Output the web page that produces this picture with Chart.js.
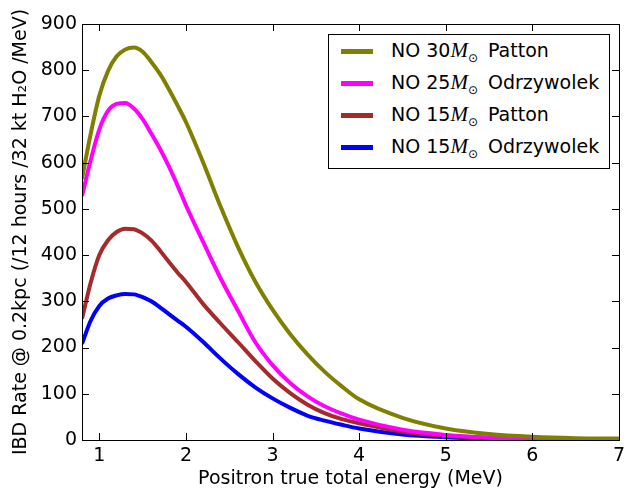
<!DOCTYPE html>
<html>
<head>
<meta charset="utf-8">
<script src="https://cdn.jsdelivr.net/npm/chart.js@4"></script>
<style>
  html, body { margin: 0; padding: 0; background: #fff; }
  #wrap { position: relative; width: 631px; height: 493px; }
  #legend {
    position: absolute; left: 328px; top: 34px; width: 280px; height: 133px;
    border: 1px solid #000; background: #fff;
    font-family: "DejaVu Sans", sans-serif; font-size: 19px; color: #000;
  }
  .item { position: absolute; left: 0; height: 32px; width: 100%; }
  .swatch { position: absolute; left: 12px; width: 32px; height: 5px; top: 14px; }
  .txt { position: absolute; left: 62px; top: 3px; white-space: nowrap; line-height: 24px; }
  .txt i { font-family: "Liberation Serif", serif; font-size: 21px; }
  .txt sub { font-size: 12px; vertical-align: -5px; margin-right: 4px; }
</style>
</head>
<body>
<div id="wrap">
  <canvas id="chart" width="631" height="493"></canvas>
  <div id="legend"></div>
</div>
<script>
// energy grid (MeV)
const energy = [0.8, 0.9, 1.0, 1.1, 1.2, 1.3, 1.4, 1.5, 1.6, 1.7, 1.8, 1.9, 2.0,
  2.2, 2.4, 2.6, 2.8, 3.0, 3.2, 3.4, 3.6, 3.8, 4.0, 4.5, 5.0, 5.5, 6.0, 6.5, 7.0];

// IBD rates
const patton30 = [565, 662, 745, 798, 830, 845, 849, 840, 818, 792, 760, 725, 688,
  600, 505, 418, 343, 282, 230, 186, 148, 116, 88, 48, 25, 13, 7, 4, 3];
const odrzy25 = [528, 605, 672, 712, 727, 729, 717, 694, 663, 630, 593, 552, 508,
  428, 350, 280, 212, 162, 124, 95, 73, 57, 44, 22, 11, 5, 3, 2, 1];
const patton15 = [262, 340, 400, 432, 450, 457, 456, 447, 432, 410, 386, 363, 342,
  294, 252, 212, 171, 133, 102, 77, 58, 45, 36, 18, 9, 5, 3, 2, 2];
const odrzy15 = [208, 258, 290, 306, 313, 316, 315, 309, 300, 287, 273, 259, 245,
  212, 176, 143, 114, 90, 70, 53, 42, 33, 25, 12, 6, 3, 2, 1, 1];

const masses = ["30", "25", "15", "15"];
const models = ["Patton", "Odrzywolek", "Patton", "Odrzywolek"];
const colors = ["#808000", "#ff00ff", "#a52a2a", "#0000ff"];
const series = [patton30, odrzy25, patton15, odrzy15];

const xTicks = [1, 2, 3, 4, 5, 6, 7];
const yTicks = [0, 100, 200, 300, 400, 500, 600, 700, 800, 900];

const font = { family: "DejaVu Sans", size: 19 };

// matplotlib style frame with inward ticks
const frame = {
  id: "frame",
  afterDraw(chart) {
    const { ctx, chartArea: a, scales } = chart;
    ctx.save();
    ctx.strokeStyle = "#000";
    ctx.lineWidth = 1;
    ctx.strokeRect(a.left + 0.5, a.top + 0.5, a.right - a.left, a.bottom - a.top);
    ctx.beginPath();
    xTicks.forEach(v => {
      const x = Math.round(scales.x.getPixelForValue(v)) + 0.5;
      ctx.moveTo(x, a.bottom); ctx.lineTo(x, a.bottom - 7);
      ctx.moveTo(x, a.top); ctx.lineTo(x, a.top + 7);
    });
    yTicks.forEach(v => {
      const y = Math.round(scales.y.getPixelForValue(v)) + 0.5;
      ctx.moveTo(a.left, y); ctx.lineTo(a.left + 7, y);
      ctx.moveTo(a.right, y); ctx.lineTo(a.right - 7, y);
    });
    ctx.stroke();
    ctx.restore();
  }
};

const datasets = series.map((vals, i) => ({
  label: "NO " + masses[i] + "M\u2609 " + models[i],
  data: vals.map((v, j) => ({ x: energy[j], y: v })),
  borderColor: colors[i],
  backgroundColor: colors[i],
  borderWidth: 4,
  pointRadius: 0,
  cubicInterpolationMode: "monotone",
  fill: false
}));

new Chart(document.getElementById("chart"), {
  type: "line",
  data: { datasets: datasets },
  plugins: [frame],
  options: {
    responsive: false,
    animation: false,
    layout: { padding: { left: 0, right: 12, top: 24, bottom: 0 } },
    plugins: { legend: { display: false }, tooltip: { enabled: false } },
    scales: {
      x: {
        type: "linear", min: 0.8, max: 7,
        afterBuildTicks: s => { s.ticks = xTicks.map(v => ({ value: v })); },
        afterFit: s => { s.height = 53; },
        grid: { display: false, drawTicks: false },
        border: { display: false },
        ticks: { font: font, color: "#000", padding: 5, maxRotation: 0 },
        title: { display: true, text: "Positron true total energy (MeV)", font: font, color: "#000", padding: { top: 0, bottom: 3 } }
      },
      y: {
        min: 0, max: 900,
        afterBuildTicks: s => { s.ticks = yTicks.map(v => ({ value: v })); },
        afterFit: s => { s.width = 82; },
        grid: { display: false, drawTicks: false },
        border: { display: false },
        ticks: { font: font, color: "#000", padding: 5 },
        title: { display: true, text: "IBD Rate @ 0.2kpc (/12 hours /32 kt H\u2082O /MeV)", font: font, color: "#000", padding: { top: 10, bottom: 0 } }
      }
    }
  }
});

// HTML legend so the solar-mass symbol can be typeset
const legend = document.getElementById("legend");
masses.forEach((m, i) => {
  const item = document.createElement("div");
  item.className = "item";
  item.style.top = (i * 32) + "px";
  item.innerHTML = '<div class="swatch" style="background:' + colors[i] + '"></div>' +
    '<div class="txt">NO ' + m + '<i>M</i><sub>\u2299</sub> ' + models[i] + '</div>';
  legend.appendChild(item);
});
</script>
</body>
</html>
